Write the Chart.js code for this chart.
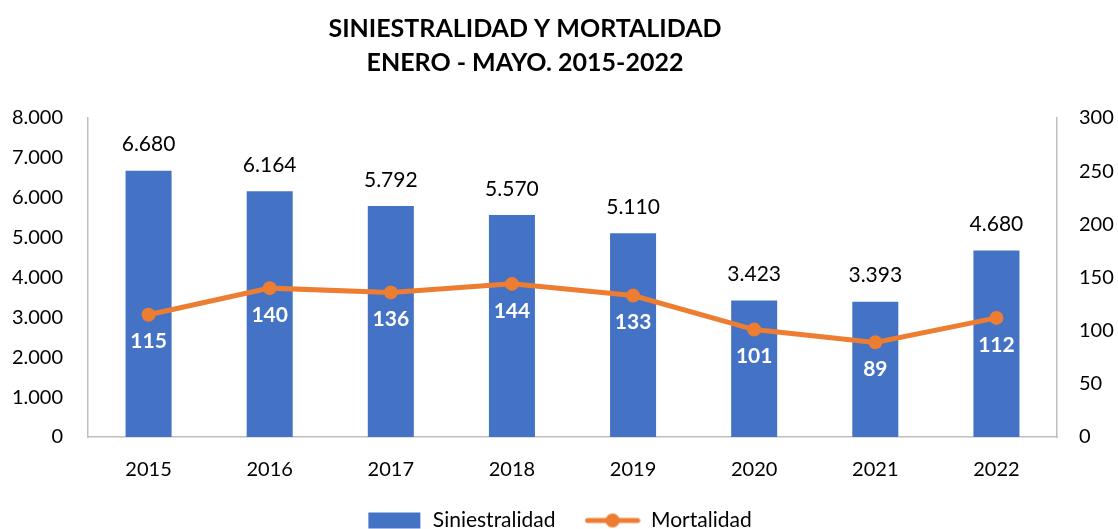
<!DOCTYPE html>
<html>
<head>
<meta charset="utf-8">
<script src="https://cdn.jsdelivr.net/npm/chart.js@4/dist/chart.umd.min.js"></script>
<style>
  html, body { margin: 0; padding: 0; background: #fff; overflow: hidden; }
  #wrap { width: 1118px; height: 566px; }
</style>
</head>
<body>
<div id="wrap"><canvas id="chart" width="1118" height="566"></canvas></div>
<script>
// data
const years = ['2015', '2016', '2017', '2018', '2019', '2020', '2021', '2022'];
const siniestralidad = [6680, 6164, 5792, 5570, 5110, 3423, 3393, 4680];
const mortalidad = [115, 140, 136, 144, 133, 101, 89, 112];
const titleLines = ['SINIESTRALIDAD Y MORTALIDAD', 'ENERO - MAYO. 2015-2022'];

const BLUE = '#4472C4';
const ORANGE = '#ED7D31';
const AXIS = '#BFBFBF';
const FONT = 'Lato';

// 6680 -> "6.680"
const fmt = (v) => String(v).replace(/\B(?=(\d{3})+(?!\d))/g, '.');

// legend swatches
const makeSwatch = (kind) => {
    const c = document.createElement('canvas');
    c.width = 56;
    c.height = 18;
    const g = c.getContext('2d');
    if (kind === 'bar') {
        g.fillStyle = BLUE;
        g.fillRect(2, 1, 52, 16);
    } else {
        g.strokeStyle = ORANGE;
        g.lineWidth = 5;
        g.lineCap = 'round';
        g.beginPath();
        g.moveTo(3, 9);
        g.lineTo(53, 9);
        g.stroke();
        g.fillStyle = ORANGE;
        g.beginPath();
        g.arc(28, 9, 7, 0, Math.PI * 2);
        g.fill();
    }
    return c;
};

const titlePlugin = {
    id: 'topTitle',
    afterDraw(chart) {
        const ctx = chart.ctx;
        ctx.save();
        ctx.fillStyle = '#000';
        ctx.font = 'bold 25px ' + FONT;
        ctx.textAlign = 'center';
        ctx.textBaseline = 'middle';
        ctx.fillText(titleLines[0], 525, 29);
        ctx.fillText(titleLines[1], 525, 63);
        ctx.restore();
    }
};

const labelPlugin = {
    id: 'valueLabels',
    afterDatasetsDraw(chart) {
        const ctx = chart.ctx;
        ctx.save();
        ctx.textAlign = 'center';
        ctx.textBaseline = 'middle';
        // bar values above the bars
        ctx.font = '21px ' + FONT;
        ctx.fillStyle = '#000';
        chart.getDatasetMeta(0).data.forEach((bar, i) => {
            ctx.fillText(fmt(siniestralidad[i]), bar.x, bar.y - 26);
        });
        // line values below the points
        ctx.font = 'bold 21px ' + FONT;
        ctx.fillStyle = '#fff';
        chart.getDatasetMeta(1).data.forEach((pt, i) => {
            ctx.fillText(String(mortalidad[i]), pt.x, pt.y + 27);
        });
        ctx.restore();
    }
};

Chart.defaults.font.family = FONT;
Chart.defaults.color = '#000';

const swatches = [makeSwatch('bar'), makeSwatch('line')];

new Chart(document.getElementById('chart'), {
    type: 'bar',
    data: {
        labels: years,
        datasets: [{
            type: 'bar',
            label: 'Siniestralidad',
            data: siniestralidad,
            backgroundColor: BLUE,
            yAxisID: 'y',
            barPercentage: 0.38,
            categoryPercentage: 1,
            order: 2
        }, {
            type: 'line',
            label: 'Mortalidad',
            data: mortalidad,
            borderColor: ORANGE,
            backgroundColor: ORANGE,
            borderWidth: 5,
            pointRadius: 7,
            pointHoverRadius: 7,
            pointBackgroundColor: ORANGE,
            pointBorderWidth: 0,
            tension: 0,
            yAxisID: 'y1',
            order: 1
        }]
    },
    options: {
        responsive: false,
        animation: false,
        devicePixelRatio: 1,
        layout: { padding: { top: 118, bottom: 25, left: 0, right: 0 } },
        plugins: {
            title: { display: false },
            tooltip: { enabled: false },
            legend: {
                position: 'bottom',
                labels: {
                    usePointStyle: true,
                    pointStyleWidth: 56,
                    padding: 29,
                    font: { size: 21 },
                    color: '#000',
                    generateLabels: (chart) => chart.data.datasets.map((ds, i) => ({
                        text: ds.label,
                        pointStyle: swatches[i],
                        fillStyle: 'transparent',
                        strokeStyle: 'transparent',
                        lineWidth: 0,
                        datasetIndex: i,
                        fontColor: '#000'
                    }))
                }
            }
        },
        scales: {
            x: {
                grid: { display: false, drawTicks: false },
                border: { display: true, color: AXIS, width: 1.5 },
                ticks: { font: { size: 20 }, padding: 21 },
                afterFit: (s) => { s.height = 44; }
            },
            y: {
                position: 'left',
                min: 0,
                max: 8000,
                grid: { display: false, drawTicks: false },
                border: { display: true, color: AXIS, width: 1.5 },
                ticks: { stepSize: 1000, font: { size: 20 }, padding: 25, callback: (v) => fmt(v) },
                afterFit: (s) => { s.width = 88; }
            },
            y1: {
                position: 'right',
                min: 0,
                max: 300,
                grid: { display: false, drawTicks: false },
                border: { display: true, color: AXIS, width: 1.5 },
                ticks: { stepSize: 50, font: { size: 20 }, padding: 22 },
                afterFit: (s) => { s.width = 61; }
            }
        }
    },
    plugins: [titlePlugin, labelPlugin]
});
</script>
</body>
</html>
